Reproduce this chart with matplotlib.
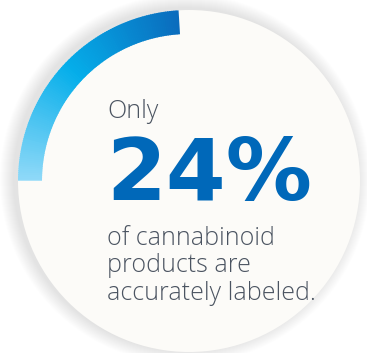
import numpy as np
import matplotlib
matplotlib.use("Agg")
import matplotlib.pyplot as plt
from matplotlib.patches import Circle, Wedge
from matplotlib.colors import LinearSegmentedColormap

# data
pct = 24
headline = "Only"
big_label = f"{pct}%"
caption = ["of cannabinoid", "products are", "accurately labeled."]

W, H = 367, 353
fig = plt.figure(figsize=(W / 100, H / 100), dpi=100)
ax = fig.add_axes([0, 0, 1, 1])
ax.set_xlim(0, W)
ax.set_ylim(0, H)
ax.axis("off")

cx, cy, R = 189, 172, 171

# soft shadow round the disc, heavier on the left
for k in range(14, 0, -1):
    ax.add_patch(Circle((cx - 4, cy + 2), R + k, color="#808080", alpha=0.010, lw=0))

ax.add_patch(Circle((cx, cy), R, color="#fcfbf8", lw=0))

# gradient ring for the percentage
cmap = LinearSegmentedColormap.from_list("ring", ["#0a6cbd", "#05aeea", "#8fd9f8"])
start = 93.5
span = pct / 100 * 360
n = 120
for i in range(n):
    t1 = start + span * i / n
    t2 = start + span * (i + 1) / n + 0.3
    ax.add_patch(Wedge((cx, cy), R, t1, min(t2, start + span), width=24,
                       color=cmap(i / (n - 1)), lw=0))

txt = "#4b5461"
ax.text(107, H - 118, headline, fontsize=18, color=txt, family="Open Sans",
        fontweight="light", va="baseline")
ax.text(106, H - 200, big_label, fontsize=62, color="#0068b9", family="DejaVu Sans",
        fontweight="heavy", va="baseline")
for i, line in enumerate(caption):
    ax.text(107, H - (245 + i * 27.5), line, fontsize=18, color=txt, family="Open Sans",
            fontweight="light", va="baseline")

fig.savefig("out.png", dpi=100, facecolor="white")
